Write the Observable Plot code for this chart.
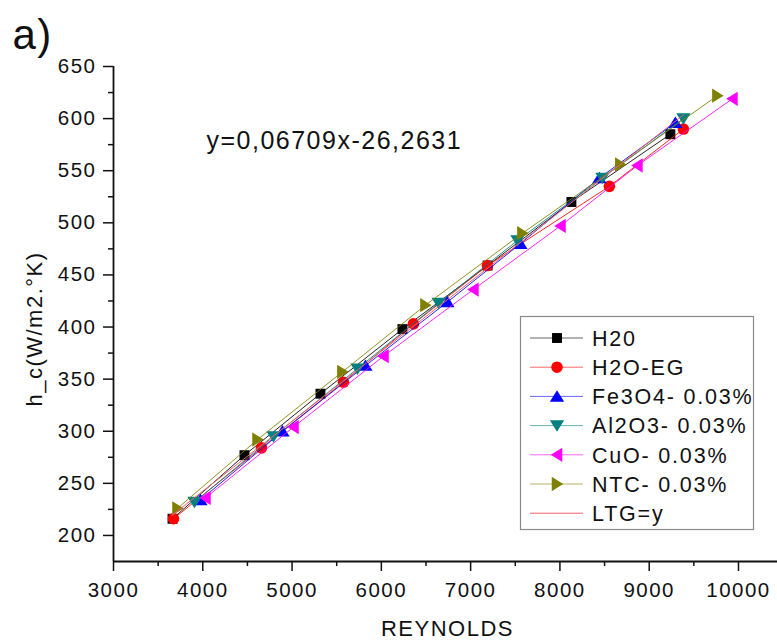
<!DOCTYPE html>
<html><head><meta charset="utf-8">
<script src="https://cdn.jsdelivr.net/npm/d3@7"></script>
<script src="https://cdn.jsdelivr.net/npm/@observablehq/plot@0.6"></script>
<style>
html,body{margin:0;padding:0;background:#fff;}
#chart{position:relative;width:777px;height:641px;overflow:hidden;background:#fff;}
#chart svg{display:block;}
</style></head><body><div id="chart"></div>
<script>
// ---- data ----
const seriesNames = ["H20", "H2O-EG", "Fe3O4- 0.03%", "Al2O3- 0.03%", "CuO- 0.03%", "NTC- 0.03%"];
const seriesColors = ["#000000", "#ff0000", "#0000ff", "#008080", "#ff00ff", "#808000"];

const h2oRe   = [3661, 4467, 5318, 6236, 7190, 8129, 9237];
const h2oHc   = [216, 277, 336, 398, 459, 520, 585];
const h2oegRe = [3672, 4657, 5576, 6359, 7188, 8554, 9383];
const h2oegHc = [216, 284, 347, 403, 459, 535, 590];
const fe3o4Re = [3974, 4893, 5822, 6740, 7558, 8442, 9293];
const fe3o4Hc = [234, 300, 363, 424, 480, 543, 596];
const al2o3Re = [3907, 4792, 5732, 6641, 7524, 8476, 9383];
const al2o3Hc = [232, 295, 360, 423, 483, 543, 600];
const cuoRe   = [4030, 5016, 6024, 7031, 8006, 8868, 9932];
const cuoHc   = [236, 304, 372, 436, 497, 555, 619];
const ntcRe   = [3717, 4613, 5564, 6494, 7580, 8677, 9764];
const ntcHc   = [226, 292, 357, 421, 490, 556, 622];

const ltgName = "LTG=y";
const ltgColor = "#f0606e";
const ltgRe = [3650, 9390];
const ltgHc = [219, 604];

const xTicks = [3000, 4000, 5000, 6000, 7000, 8000, 9000, 10000];
const xMinor = [3500, 4500, 5500, 6500, 7500, 8500, 9500];
const yTicks = [200, 250, 300, 350, 400, 450, 500, 550, 600, 650];
const yMinor = [225, 275, 325, 375, 425, 475, 525, 575, 625];
const xDomain = [3000, 10437];
const yDomain = [175, 650];

const xLabel = "REYNOLDS";
const yLabel = "h_c(W/m2.°K)";
const panelLabel = "a)";
const eqText = "y=0,06709x-26,2631";
const eqRe = 4041;
const eqHc = 578.7;

// ---- symbols ----
function tri(dir) {
  return {draw(ctx, size) {
    const r = Math.sqrt(size / Math.PI);
    const a = r * 1.15, b = r * 0.85;
    let pts;
    if (dir === "up") pts = [[0, -r], [a, b], [-a, b]];
    else if (dir === "down") pts = [[0, r], [a, -b], [-a, -b]];
    else if (dir === "left") pts = [[-r, 0], [b, -a], [b, a]];
    else pts = [[r, 0], [-b, -a], [-b, a]];
    ctx.moveTo(pts[0][0], pts[0][1]);
    ctx.lineTo(pts[1][0], pts[1][1]);
    ctx.lineTo(pts[2][0], pts[2][1]);
    ctx.closePath();
  }};
}
const seriesSymbols = [d3.symbolSquare, d3.symbolCircle, tri("up"), tri("down"), tri("left"), tri("right")];
const seriesR = [5.6, 5.8, 6.2, 6.2, 6.2, 6.2];

const reArrays = [h2oRe, h2oegRe, fe3o4Re, al2o3Re, cuoRe, ntcRe];
const hcArrays = [h2oHc, h2oegHc, fe3o4Hc, al2o3Hc, cuoHc, ntcHc];
const tables = seriesNames.map((name, i) => reArrays[i].map((re, j) => ({series: name, re, hc: hcArrays[i][j]})));
const ltgTable = ltgRe.map((re, j) => ({re, hc: ltgHc[j]}));

const FONT = '"Liberation Sans", Arial, Helvetica, sans-serif';

const marks = [];
tables.forEach((t, i) => {
  marks.push(Plot.line(t, {x: "re", y: "hc", stroke: seriesColors[i], strokeWidth: 1, strokeOpacity: 0.85}));
  marks.push(Plot.dot(t, {x: "re", y: "hc", fill: seriesColors[i], symbol: seriesSymbols[i], r: seriesR[i]}));
});
marks.push(Plot.line(ltgTable, {x: "re", y: "hc", stroke: ltgColor, strokeWidth: 1}));

marks.push(
  Plot.axisX({ticks: xTicks, tickSize: 10, tickPadding: 11, tickFormat: "d", fontSize: 20.5, strokeWidth: 1.5, label: null}),
  Plot.axisX({ticks: xMinor, tickSize: 5, tickFormat: () => "", strokeWidth: 1.5, label: null}),
  Plot.axisY({ticks: yTicks, tickSize: 10, tickPadding: 7, tickFormat: "d", fontSize: 20.5, strokeWidth: 1.5, label: null}),
  Plot.axisY({ticks: yMinor, tickSize: 5, tickFormat: () => "", strokeWidth: 1.5, label: null}),
  Plot.ruleX([xDomain[0]], {strokeWidth: 1.8}),
  Plot.ruleY([yDomain[0]], {strokeWidth: 1.8}),
  Plot.text([xLabel], {text: d => d, frameAnchor: "bottom", dx: 2, dy: 67, fontSize: 22, textAnchor: "middle", lineAnchor: "middle"}),
  Plot.text([yLabel], {text: d => d, frameAnchor: "left", rotate: -90, dx: -79, dy: 15, fontSize: 22, textAnchor: "middle", lineAnchor: "middle"}),
  Plot.text([panelLabel], {text: d => d, frameAnchor: "top-left", dx: -101, dy: -31, fontSize: 42, textAnchor: "start", lineAnchor: "middle"}),
  Plot.text([{re: eqRe, hc: eqHc, t: eqText}], {x: "re", y: "hc", text: "t", fontSize: 25, textAnchor: "start", lineAnchor: "middle"})
);

const chart = Plot.plot({
  width: 777,
  height: 641,
  marginLeft: 113,
  marginRight: 0,
  marginTop: 66,
  marginBottom: 80,
  x: {domain: xDomain},
  y: {domain: yDomain},
  style: {fontFamily: FONT, color: "#111", background: "white", letterSpacing: "1.5px", overflow: "visible"},
  marks
});
document.getElementById("chart").appendChild(chart);

// ---- legend overlay ----
const legNames = [...seriesNames, ltgName];
const legColors = [...seriesColors, ltgColor];
const leg = d3.select("#chart").append("svg")
  .attr("width", 777).attr("height", 641)
  .style("position", "absolute").style("left", "0px").style("top", "0px")
  .style("pointer-events", "none")
  .style("font-family", FONT).style("letter-spacing", "1.8px");
leg.append("rect").attr("x", 520.5).attr("y", 316.5).attr("width", 233).attr("height", 213)
  .attr("fill", "white").attr("stroke", "#8a8a8a").attr("stroke-width", 1.2);
legNames.forEach((name, i) => {
  const y = 338 + i * 29.2;
  leg.append("line").attr("x1", 530).attr("x2", 583).attr("y1", y).attr("y2", y)
    .attr("stroke", legColors[i]).attr("stroke-width", 1).attr("stroke-opacity", i < 6 ? 0.6 : 1);
  if (i < 6) {
    const p = d3.path();
    seriesSymbols[i].draw(p, Math.PI * seriesR[i] * seriesR[i]);
    leg.append("path").attr("d", p.toString()).attr("transform", `translate(557,${y})`).attr("fill", seriesColors[i]);
  }
  leg.append("text").attr("x", 592).attr("y", y).attr("dy", "0.36em")
    .attr("font-size", 21.5).attr("fill", "#111").text(name);
});
</script>
</body></html>
